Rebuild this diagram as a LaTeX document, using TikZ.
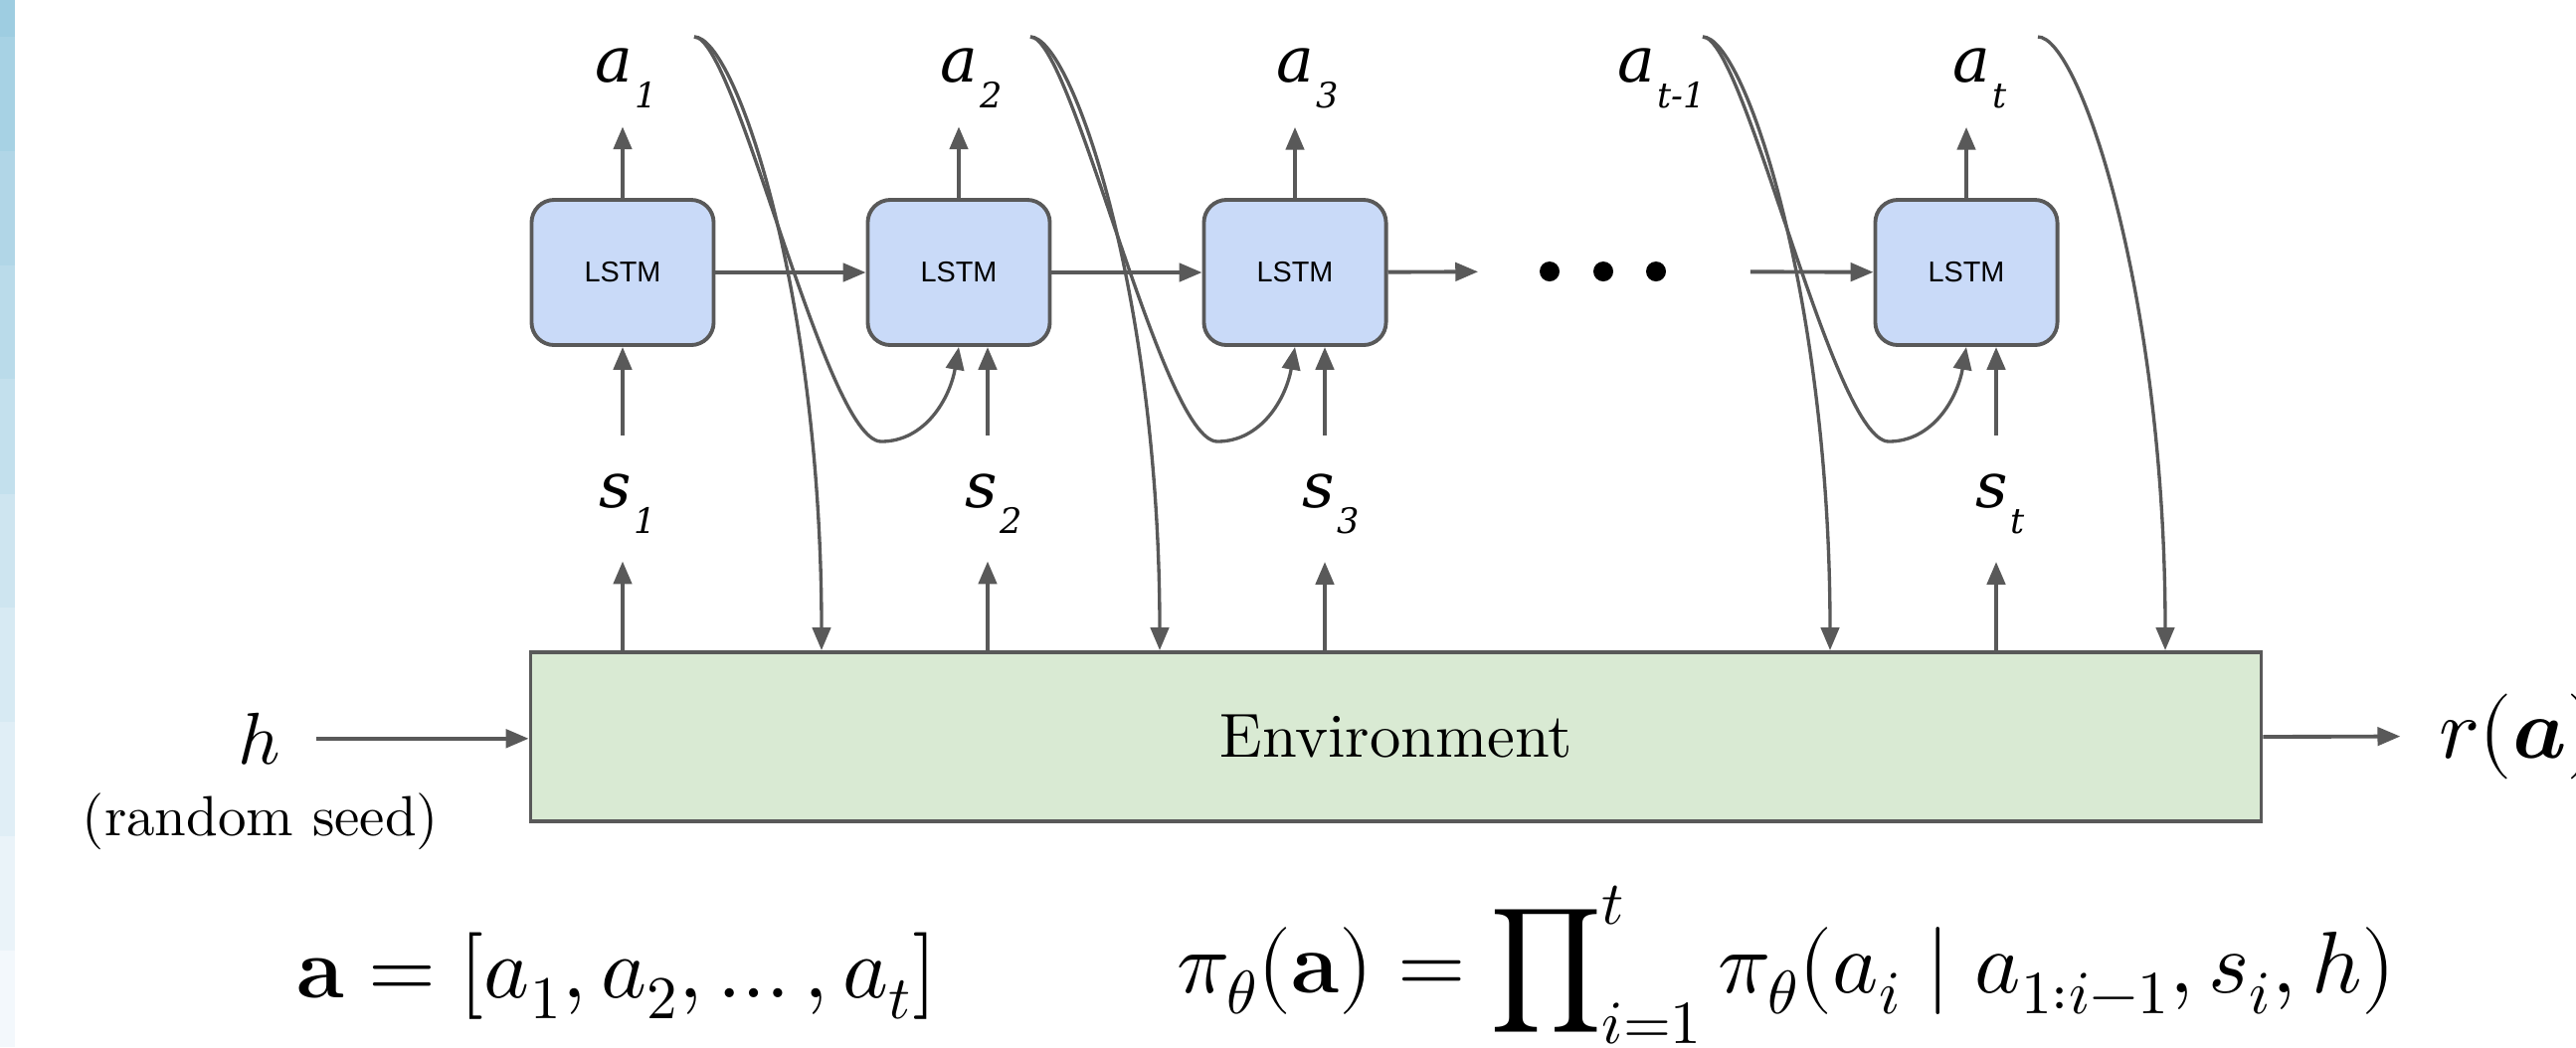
\documentclass[tikz,border=0pt]{standalone}
\usepackage{amsmath}
\usepackage{fontspec}
\usepackage{unicode-math}
\newfontfamily\seqfont{DejaVu Serif}
\newfontfamily\cellfont{Liberation Sans}
\newfontfamily\envfont{lmroman10-regular.otf}
\usetikzlibrary{arrows.meta,positioning,calc}
\definecolor{Edge}{RGB}{89,89,89}
\definecolor{CellBlue}{RGB}{201,218,248}
\definecolor{EnvGreen}{RGB}{217,234,211}
\definecolor{StripTop}{RGB}{158,205,225}
\definecolor{StripBot}{RGB}{243,248,252}
\newcommand{\seqlab}[2]{{\seqfont\itshape\fontsize{18pt}{18pt}\selectfont #1\kern0.6pt\raisebox{-7.6pt}{\fontsize{10pt}{10pt}\selectfont #2}}}
\tikzset{
  cell/.style={draw=Edge,line width=1.1pt,rounded corners=6.5pt,fill=CellBlue,minimum width=1.83cm,minimum height=1.46cm,inner sep=0pt,font=\cellfont\fontsize{8.2pt}{8.2pt}\selectfont},
  envbox/.style={draw=Edge,line width=1.1pt,fill=EnvGreen,minimum width=17.39cm,minimum height=1.70cm,inner sep=0pt,font=\envfont\fontsize{17.8pt}{17.8pt}\selectfont},
  dot/.style={circle,fill=black,minimum size=0.2cm,inner sep=0pt},
  flow/.style={-{Triangle[length=6.5pt,width=5.2pt]},draw=Edge,line width=1.1pt},
  feed/.style={-{Triangle[length=6.5pt,width=5.2pt]},draw=Edge,line width=0.95pt},
  seqlabel/.style={anchor=base west,inner sep=0pt},
  mathlabel/.style={anchor=base,inner sep=0pt,font=\fontsize{23pt}{23pt}\selectfont}
}
\begin{document}
\begin{tikzpicture}[x=0.01cm,y=-0.01cm]
\useasboundingbox (0,0) rectangle (2590,1053);
\foreach \ya/\yb/\p in {0/37/100,37/152/89,152/267/78,267/381/67,381/497/56,497/611/44,611/726/33,726/841/22,841/956/11,956/1053/0}
  \fill[StripTop!\p!StripBot] (0,\ya) rectangle (15,\yb);

\node[cell] (c1) at (626,274) {LSTM};
\node[cell] (c2) at (964,274) {LSTM};
\node[cell] (c3) at (1302,274) {LSTM};
\node[cell] (ct) at (1977,274) {LSTM};
\node[dot] (d1) at (1558,273) {};
\node[dot] (d2) at (1612,273) {};
\node[dot] (d3) at (1665,273) {};
\node[envbox] (env) at (1403.5,741) {Environment};

\node[seqlabel] (a1) at (598,82) {\seqlab{a}{1}};
\node[seqlabel] (a2) at (945,82) {\seqlab{a}{2}};
\node[seqlabel] (a3) at (1283,82) {\seqlab{a}{3}};
\node[seqlabel] (a4) at (1626,82) {\seqlab{a}{t-1}};
\node[seqlabel] (at) at (1963,82) {\seqlab{a}{t}};
\node[seqlabel] (s1) at (602,510) {\seqlab{s}{1}};
\node[seqlabel] (s2) at (970,510) {\seqlab{s}{2}};
\node[seqlabel] (s3) at (1309,510) {\seqlab{s}{3}};
\node[seqlabel] (st) at (1986,510) {\seqlab{s}{t}};

\node[mathlabel,font=\fontsize{21pt}{21pt}\selectfont] (h) at (261,768) {$h$};
\node[anchor=base,inner sep=0pt,font=\envfont\fontsize{16.2pt}{16.2pt}\selectfont] (seed) at (262,840) {(random seed)};
\node[mathlabel,anchor=base west,font=\fontsize{24.5pt}{24.5pt}\selectfont] (r) at (2452,762) {$r(\symbfit{a})$};
\node[mathlabel,font=\fontsize{24.8pt}{24.8pt}\selectfont] (seq) at (620,1003) {$\mathbf{a}=[a_1,a_2,\ldots,a_t]$};
\node[mathlabel,font=\fontsize{25pt}{25pt}\selectfont] (pol) at (1796,998) {$\pi_\theta(\mathbf{a})=\displaystyle\prod\nolimits_{i=1}^{t}\pi_\theta(a_i\mid a_{1:i-1},s_i,h)$};

\coordinate (t1) at (626,0);
\coordinate (t2) at (993,0);
\coordinate (t3) at (1332,0);
\coordinate (tt) at (2007,0);
\coordinate (k1) at (698,37);
\coordinate (k2) at (1036,37);
\coordinate (k3) at (1712,37);
\coordinate (kt) at (2049,37);
\coordinate (b1) at (886,444);
\coordinate (b2) at (1224,444);
\coordinate (b3) at (1899,444);
\coordinate (e1) at (826,0);
\coordinate (e2) at (1166,0);
\coordinate (e3) at (1840,0);
\coordinate (et) at (2177,0);

\draw[flow](c1)--(c2);\draw[flow](c2)--(c3);
\draw[flow,shorten >=17.4pt](c3)--(d1);\draw[flow,shorten <=23.9pt](d3)--(ct);
\draw[flow,shorten >=5.1pt](c1.north)--(a1.south -| c1.north);
\draw[flow,shorten >=5.1pt](c2.north)--(a2.south -| c2.north);
\draw[flow,shorten >=5.1pt](c3.north)--(a3.south -| c3.north);
\draw[flow,shorten >=5.1pt](ct.north)--(at.south -| ct.north);
\foreach \s/\c/\t in {s1/c1/t1,s2/c2/t2,s3/c3/t3,st/ct/tt}{
  \draw[flow,shorten <=10.8pt](\s.north -| \t)--(\c.south -| \t);
  \draw[flow,shorten >=7.7pt](env.north -| \t)--(\s.south -| \t);
}
\foreach \i in {1,2,3,t}
  \draw[feed](k\i) .. controls +(42,0) and +(0,-356) .. (env.north -| e\i);
\foreach \i/\c in {1/c2,2/c3,3/ct}
  \draw[feed](k\i) .. controls +(42,0) and +(-56,0) .. (b\i) .. controls +(44,0) and +(-9,52) .. (\c.south);
\draw[flow,shorten <=10pt](h.east)--(h.east -| env.west);
\draw[flow,shorten >=11pt](env.east)--(r.west);
\end{tikzpicture}
\end{document}
